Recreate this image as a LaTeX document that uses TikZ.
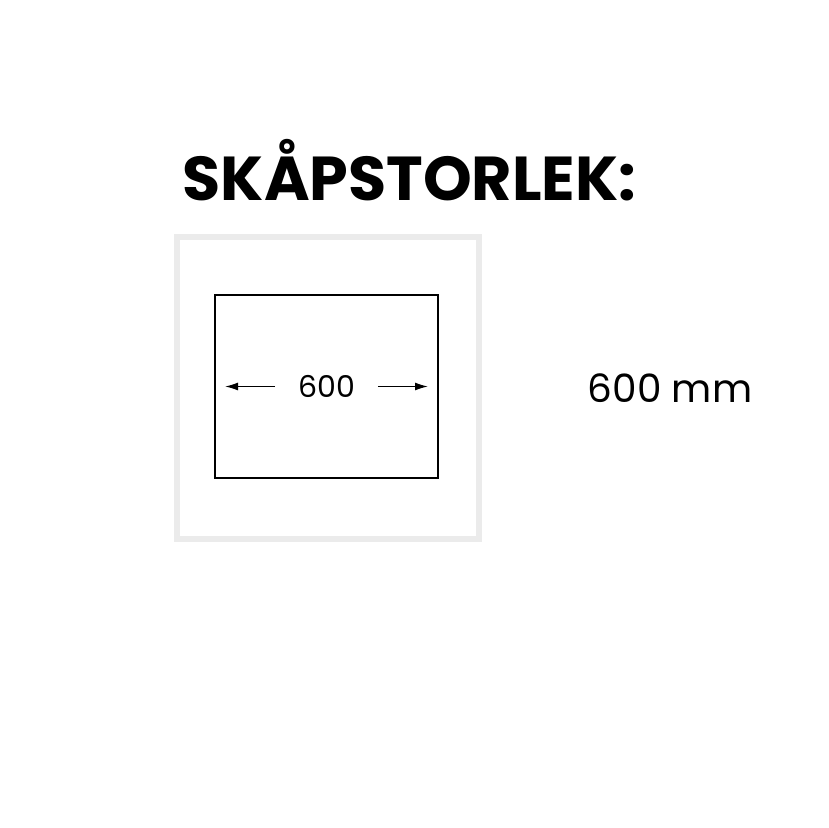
\documentclass[tikz,border=0pt]{standalone}
\usepackage{fontspec}
\setmainfont{Poppins}
\usetikzlibrary{positioning, arrows.meta}

\begin{document}
\begin{tikzpicture}[x=1pt, y=-1pt, >={Latex[length=13pt, width=8pt]}, inner sep=0pt, outer sep=0pt]

\useasboundingbox (0,0) rectangle (828,828);

% titel
\node[anchor=base, font=\fontsize{62}{62}\selectfont\bfseries] (title) at (409.5,200) {SKÅPSTORLEK:};

% skåp
\node[draw=black!8, line width=6pt, minimum width=302pt, minimum height=302pt] (frame) at (328,388) {};
\node[draw, line width=1.3pt, minimum width=223pt, minimum height=183pt] (cabinet) at (326.5,386.5) {};

% mått
\node[inner xsep=23pt, font=\fontsize{30}{30}\selectfont] (width) at (cabinet.center) {600};
\coordinate[right=10pt of cabinet.west] (lefttip);
\coordinate[left=10pt of cabinet.east] (righttip);
\draw[->, line width=1.3pt] (width) -- (lefttip);
\draw[->, line width=1.3pt] (width) -- (righttip);

\node[font=\fontsize{39}{39}\selectfont] (size) at (670,388) {600 mm};

\end{tikzpicture}
\end{document}
